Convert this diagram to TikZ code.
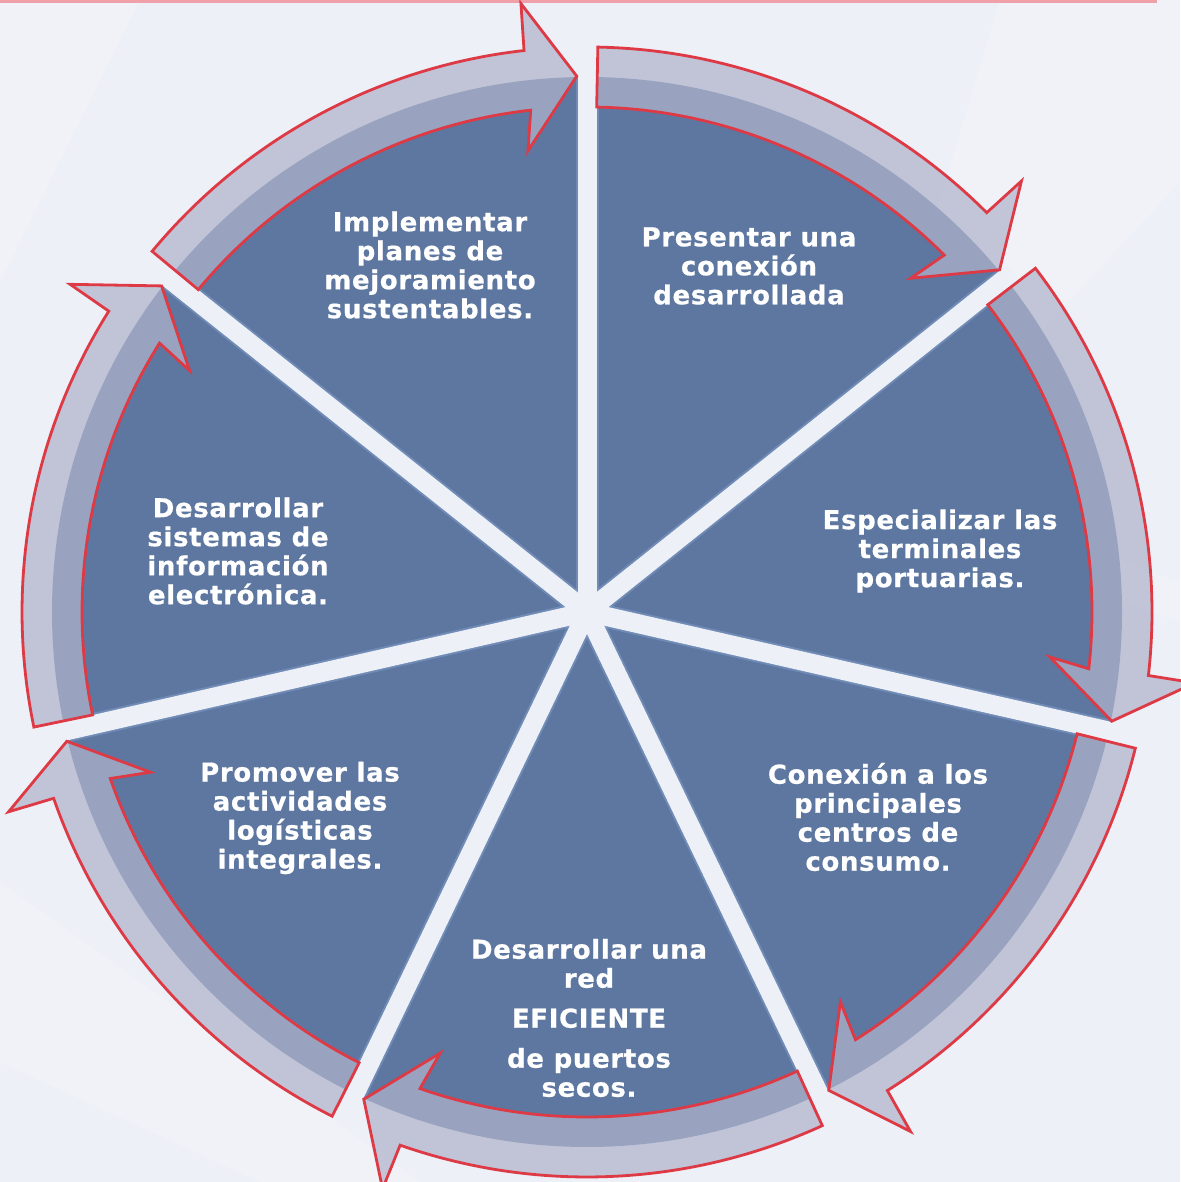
\documentclass[tikz,border=0pt]{standalone}
\usepackage{fontspec}
\setmainfont{DejaVu Sans}
\newfontfamily\segfont{DejaVu Sans}[LetterSpace=2.5,BoldFeatures={FakeBold=0.6}]
\definecolor{bgcol}{RGB}{237,240,247}
\definecolor{pieblue}{RGB}{93,119,160}
\definecolor{pieedge}{RGB}{130,160,205}
\definecolor{ringcol}{RGB}{177,180,204}
\definecolor{redline}{RGB}{221,58,70}
\definecolor{topline}{RGB}{240,160,168}
\tikzset{
  piefill/.style={fill=pieblue},
  gapedge/.style={draw=pieedge, draw opacity=0.5, line width=23pt},
  gapline/.style={draw=bgcol, line width=19pt},
  ringarrow/.style={fill=ringcol, fill opacity=0.72, draw=redline, line width=2.8pt, line join=miter},
  segtext/.style={text=white, font=\segfont\bfseries\fontsize{26}{29}\selectfont, align=center, inner sep=0pt},
  stripe/.style={fill=white, fill opacity=0.18},
}
\begin{document}
\begin{tikzpicture}[x=1pt,y=1pt]
  \useasboundingbox (0,0) rectangle (1180,1182);
  \fill[bgcol] (0,0) rectangle (1180,1182);
  % faint background bands
  \fill[stripe] (0,1182) -- (140,1182) -- (0,900) -- cycle;
  \fill[stripe] (1000,1182) -- (1180,1182) -- (1180,1000) -- (900,700) -- (1180,600) -- (1180,560) -- (850,680) -- cycle;
  \fill[stripe] (0,300) -- (0,120) -- (260,0) -- (420,0) -- cycle;
  \draw[topline, line width=2.5pt] (0,1180.5) -- (1157,1180.5);
  \coordinate (C) at (587,570);
  \begin{scope}[shift={(C)}]
    \fill[piefill] (0,0) circle[radius=535pt];
    \foreach \g in {90,38.571,-12.857,-64.286,-115.714,-167.143,141.429}{
      \draw[gapedge] (0,0) -- (\g:534pt);
    }
    \foreach \g in {90,38.571,-12.857,-64.286,-115.714,-167.143,141.429}{
      \draw[gapline] (0,0) -- (\g:545pt);
    }
    \foreach \s in {141.429,90,38.571,-12.857,-64.286,-115.714,-167.143}{
      \pgfmathsetmacro\angS{\s-1.1}
      \pgfmathsetmacro\angE{\s-51.429+1.1}
      \pgfmathsetmacro\angH{\angE+5.3}
      \pgfmathsetmacro\angO{\angH-0.2}
      \pgfmathsetmacro\angI{\angH+0.9}
      \draw[ringarrow] (\angS:565pt) arc[start angle=\angS, end angle=\angH, radius=565pt]
        -- (\angO:612pt) -- (\angE:536pt) -- (\angI:465pt) -- (\angH:505pt)
        arc[start angle=\angH, end angle=\angS, radius=505pt] -- cycle;
    }
  \end{scope}
  \node[segtext] (t1) at (430,917) {Implementar\\planes de\\mejoramiento\\sustentables.};
  \node[segtext] (t2) at (749,916) {Presentar una\\conexión\\desarrollada};
  \node[segtext] (t3) at (940,631) {Especializar las\\terminales\\portuarias.};
  \node[segtext] (t4) at (878,365) {Conexión a los\\principales\\centros de\\consumo.};
  \node[segtext] (t5) at (589,164) {Desarrollar una\\red\\[11pt]EFICIENTE\\[11pt]de puertos\\secos.};
  \node[segtext] (t6) at (300,364) {Promover las\\actividades\\logísticas\\integrales.};
  \node[segtext] (t7) at (238,631) {Desarrollar\\sistemas de\\información\\electrónica.};
\end{tikzpicture}
\end{document}
